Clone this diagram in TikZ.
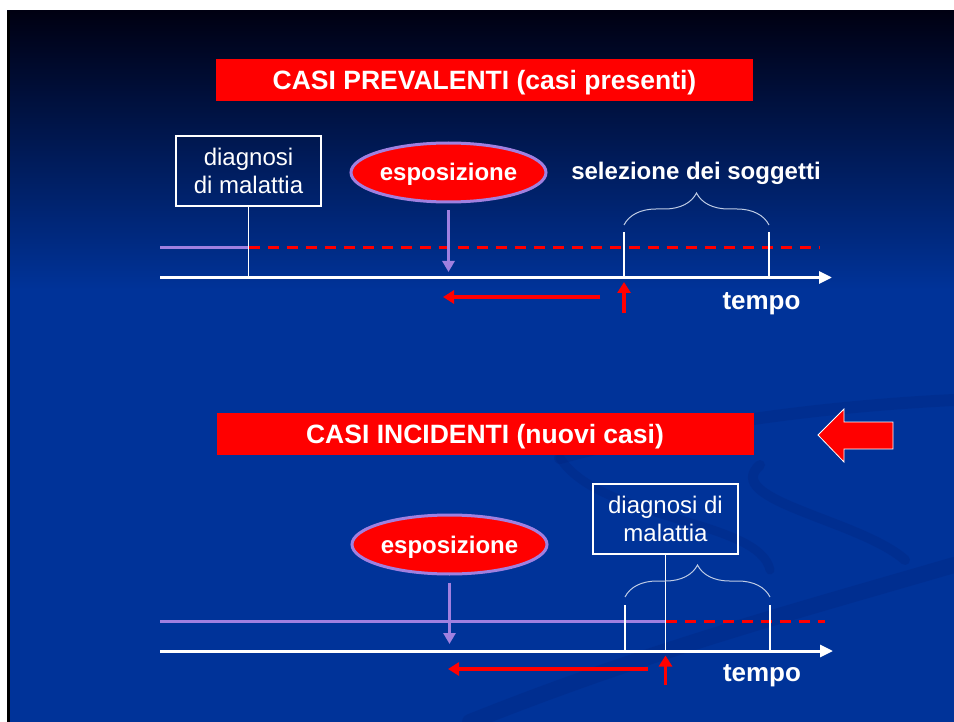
\documentclass[tikz,border=0pt]{standalone}
\usepackage{fontspec}
\setmainfont{Liberation Sans}
\usetikzlibrary{shapes.geometric,arrows.meta,decorations.pathreplacing}
\definecolor{bgtop}{RGB}{0,0,18}
\definecolor{bgbot}{RGB}{0,51,153}
\definecolor{lilla}{RGB}{160,128,224}
\definecolor{rosso}{RGB}{255,0,0}
\definecolor{swirl}{RGB}{0,36,125}

\begin{document}
\begin{tikzpicture}[x=1pt,y=-1pt,
  titolo/.style={fill=rosso,text=white,minimum width=537pt,minimum height=42pt,inner sep=0pt,
    text height=19pt,text depth=0pt,font=\fontsize{26.5}{30}\selectfont\bfseries},
  diagnosi/.style={draw=white,line width=1.5pt,text=white,minimum width=145pt,minimum height=70pt,
    inner sep=0pt,align=center,font=\fontsize{24}{28}\selectfont},
  espo/.style={ellipse,draw=lilla,line width=3pt,fill=rosso,text=white,minimum width=195pt,
    minimum height=59pt,inner sep=0pt,text height=17pt,text depth=0pt,font=\fontsize{24}{28}\selectfont\bfseries},
  scritta/.style={text=white,inner sep=0pt,font=\fontsize{24}{28}\selectfont\bfseries},
  asse/.style={white,line width=3pt,-{Triangle[length=13pt,width=12pt]}},
  sottile/.style={white,line width=1.2pt},
  vita/.style={lilla,line width=3pt},
  malato/.style={rosso,line width=3pt,dash pattern=on 11pt off 8pt},
  freccia/.style={lilla,line width=3pt,-{Triangle[length=11pt,width=12pt]}},
  ritorno/.style={rosso,line width=4pt,-{Triangle[length=11pt,width=13pt]}},
  graffa/.style={white!75!bgbot,line width=1pt,decorate,decoration={brace,amplitude=32pt}},
  onda/.style={swirl,opacity=0.3,line cap=round}
]
\useasboundingbox (0,0) rectangle (954,722);

% sfondo
\fill[white] (0,0) rectangle (954,722);
\fill[bgbot] (7,11) rectangle (954,722);
\shade[top color=bgtop,bottom color=bgbot] (7,11) rectangle (954,290);
\fill[black] (7,11) rectangle (10,722);
\draw[onda,line width=16pt] (470,722) .. controls (650,650) and (800,610) .. (954,565);
\draw[onda,line width=12pt] (560,458) .. controls (700,420) and (850,405) .. (954,400);
\draw[onda,line width=10pt] (760,465) .. controls (720,500) and (860,520) .. (905,560);
\draw[onda,line width=9pt] (560,458) .. controls (600,520) and (760,520) .. (770,570);

% casi prevalenti
\node[titolo] (prev) at (484.5,80) {CASI PREVALENTI (casi presenti)};
\node[diagnosi] (diag1) at (248.5,171) {diagnosi\\di malattia};
\node[espo] (espo1) at (448.5,172.5) {esposizione};
\node[scritta,text height=17pt,text depth=0pt] (sel) at (696,171.5) {selezione dei soggetti};
\node[scritta,anchor=base,font=\fontsize{26}{30}\selectfont\bfseries] (tempo1) at (761.5,309) {tempo};

\coordinate (inizio1) at (160,248);
\coordinate (fine1) at (820,248);
\coordinate (a1) at (160,277.5);
\coordinate (b1) at (832,277.5);
\coordinate (esp1) at (448.5,272);
\coordinate (s1) at (624,225);
\coordinate (t1) at (769,225);
\coordinate (r1) at (600,297);
\coordinate (l1) at (443,297);
\coordinate (u1) at (624,313);

\draw[vita] (inizio1) -- (diag1.south |- inizio1);
\draw[malato] (diag1.south |- inizio1) -- (fine1);
\draw[sottile] (diag1.south) -- (diag1.south |- a1);
\draw[sottile] ([yshift=-7pt]s1) -- (s1 |- a1);
\draw[sottile] ([yshift=-7pt]t1) -- (t1 |- a1);
\draw[graffa] (s1) -- (t1);
\draw[asse] (a1) -- (b1);
\draw[freccia] ([yshift=-7pt]espo1.south) -- (esp1);
\draw[ritorno] (r1) -- (l1);
\draw[ritorno,line width=3.5pt] (u1) -- ([yshift=-4.5pt]s1 |- a1);

% casi incidenti
\node[titolo] (inc) at (485,434) {CASI INCIDENTI (nuovi casi)};
\draw[white,line width=0.8pt,fill=rosso] (818,435) -- (844,409) -- (844,422) -- (893,422)
  -- (893,449) -- (844,449) -- (844,462) -- cycle;
\node[diagnosi] (diag2) at (665.5,519) {diagnosi di\\malattia};
\node[espo] (espo2) at (449.5,544.5) {esposizione};
\node[scritta,anchor=base,font=\fontsize{26}{30}\selectfont\bfseries] (tempo2) at (762,681) {tempo};

\coordinate (inizio2) at (160,621);
\coordinate (fine2) at (825,621);
\coordinate (a2) at (160,651);
\coordinate (b2) at (833,651);
\coordinate (esp2) at (449.5,644);
\coordinate (s2) at (625,597);
\coordinate (t2) at (770,597);
\coordinate (r2) at (648,669);
\coordinate (l2) at (448,669);
\coordinate (u2) at (665.5,685);

\draw[vita] (inizio2) -- (diag2.south |- inizio2);
\draw[malato] (diag2.south |- inizio2) -- (fine2);
\draw[sottile] ([yshift=-8pt]s2) -- (s2 |- a2);
\draw[sottile] ([yshift=-8pt]t2) -- (t2 |- a2);
\draw[sottile] (diag2.south) -- (diag2.south |- a2);
\draw[graffa] (s2) -- (t2);
\draw[asse] (a2) -- (b2);
\draw[freccia] ([yshift=-7pt]espo2.south) -- (esp2);
\draw[ritorno] (r2) -- (l2);
\draw[ritorno,line width=3.5pt] (u2) -- ([yshift=-4.5pt]diag2.south |- a2);

\end{tikzpicture}
\end{document}
